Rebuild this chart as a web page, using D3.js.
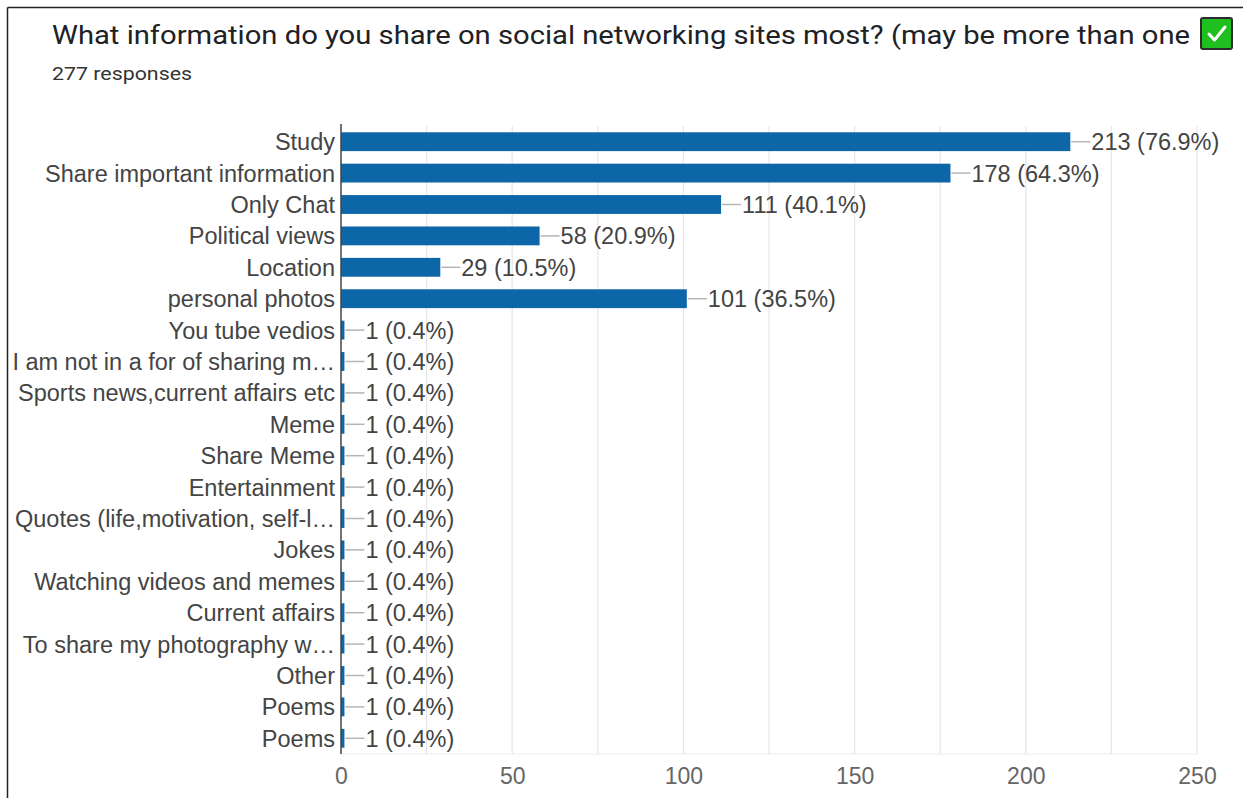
<!DOCTYPE html>
<html>
<head>
<meta charset="utf-8">
<script src="https://cdn.jsdelivr.net/npm/d3@7"></script>
<style>
  html, body { margin: 0; padding: 0; background: #fff; }
  svg { display: block; }
</style>
</head>
<body>
<svg id="chart" width="1243" height="798"></svg>
<script>
// Survey answers and their response counts
const categories = [
  "Study",
  "Share important information",
  "Only Chat",
  "Political views",
  "Location",
  "personal photos",
  "You tube vedios",
  "I am not in a for of sharing m\u2026",
  "Sports news,current affairs etc",
  "Meme",
  "Share Meme",
  "Entertainment",
  "Quotes (life,motivation, self-l\u2026",
  "Jokes",
  "Watching videos and memes",
  "Current affairs",
  "To share my photography w\u2026",
  "Other",
  "Poems",
  "Poems"
];
const counts = [213, 178, 111, 58, 29, 101, 1, 1, 1, 1, 1, 1, 1, 1, 1, 1, 1, 1, 1, 1];
const totalResponses = 277;
const xTicks = [0, 50, 100, 150, 200, 250];
const gridValues = [25, 50, 75, 100, 125, 150, 175, 200, 225, 250];

const titleText = "What information do you share on social networking sites most? (may be more than one";
const subtitleText = totalResponses + " responses";

const svg = d3.select("#chart");
const FONT = "'Liberation Sans', Arial, sans-serif";
const LABEL_SIZE = 23.5;

// Card frame
svg.append("line").attr("x1", 7.5).attr("x2", 1243).attr("y1", 7.5).attr("y2", 7.5)
  .attr("stroke", "#222").attr("stroke-width", 1.5);
svg.append("line").attr("x1", 7.5).attr("x2", 7.5).attr("y1", 7.5).attr("y2", 798)
  .attr("stroke", "#222").attr("stroke-width", 1.5);

// Title and response count
svg.append("text")
  .attr("x", 52).attr("y", 44)
  .attr("font-family", "Roboto, 'Open Sans', sans-serif")
  .attr("font-size", 26)
  .attr("fill", "#202124")
  .attr("textLength", 1138)
  .attr("lengthAdjust", "spacingAndGlyphs")
  .text(titleText);

svg.append("text")
  .attr("x", 52).attr("y", 80)
  .attr("font-family", "Roboto, 'Open Sans', sans-serif")
  .attr("font-size", 19)
  .attr("fill", "#333")
  .attr("textLength", 140)
  .attr("lengthAdjust", "spacingAndGlyphs")
  .text(subtitleText);

// Green check box after the title
const cb = svg.append("g").attr("transform", "translate(1201,18)");
cb.append("rect").attr("x", 0).attr("y", 0).attr("width", 31).attr("height", 31).attr("rx", 2)
  .attr("fill", "#1fbf1f").attr("stroke", "#2b2b2b").attr("stroke-width", 2);
cb.append("path").attr("d", "M8,16 L13.5,22 L24,9")
  .attr("fill", "none").attr("stroke", "#fff").attr("stroke-width", 3)
  .attr("stroke-linecap", "round").attr("stroke-linejoin", "round");

// Scales
const x = d3.scaleLinear().domain([0, 250]).range([341, 1197]);
const y = d3.scaleBand()
  .domain(d3.range(categories.length))
  .range([126, 754])
  .paddingInner(0.4)
  .paddingOuter(0.2);

// Vertical gridlines
svg.append("g").selectAll("line").data(gridValues).join("line")
  .attr("x1", d => x(d)).attr("x2", d => x(d))
  .attr("y1", 126).attr("y2", 754)
  .attr("stroke", "#e6e6e6").attr("stroke-width", 1.2);
svg.append("line").attr("x1", x(0)).attr("x2", x(250)).attr("y1", 754).attr("y2", 754)
  .attr("stroke", "#ececec").attr("stroke-width", 1);

// X axis tick labels
const xAxis = d3.axisBottom(x).tickValues(xTicks).tickSize(0).tickPadding(0);
const gx = svg.append("g").attr("transform", "translate(0,770)").call(xAxis);
gx.select(".domain").remove();
gx.selectAll("text")
  .attr("font-family", FONT).attr("font-size", 23).attr("fill", "#666")
  .attr("dy", "0.6em");

// Category labels on the left
const yAxis = d3.axisLeft(y).tickFormat(i => categories[i]).tickSize(0).tickPadding(0);
const gy = svg.append("g").attr("transform", "translate(335,0)").call(yAxis);
gy.select(".domain").remove();
gy.selectAll("text")
  .attr("font-family", FONT).attr("font-size", LABEL_SIZE).attr("fill", "#444")
  .attr("dy", "0.36em");

// Bars
svg.append("g").selectAll("rect").data(counts).join("rect")
  .attr("x", x(0))
  .attr("y", (d, i) => y(i))
  .attr("width", d => x(d) - x(0))
  .attr("height", y.bandwidth())
  .attr("fill", "#0d66a8");

// Connector lines and value labels
const fmtPct = v => (v / totalResponses * 100).toFixed(1) + "%";
const lbl = svg.append("g").selectAll("g").data(counts).join("g")
  .attr("transform", (d, i) => `translate(${x(d)},${y(i) + y.bandwidth() / 2})`);
lbl.append("line").attr("x1", 1).attr("x2", 20).attr("y1", 0).attr("y2", 0)
  .attr("stroke", "#b5b5b5").attr("stroke-width", 1.5);
lbl.append("text")
  .attr("x", 21).attr("dy", "0.36em")
  .attr("font-family", FONT).attr("font-size", LABEL_SIZE).attr("fill", "#444")
  .text(d => `${d} (${fmtPct(d)})`);

// Zero baseline
svg.append("line").attr("x1", x(0)).attr("x2", x(0)).attr("y1", 124).attr("y2", 754)
  .attr("stroke", "#444").attr("stroke-width", 1.5);
</script>
</body>
</html>
